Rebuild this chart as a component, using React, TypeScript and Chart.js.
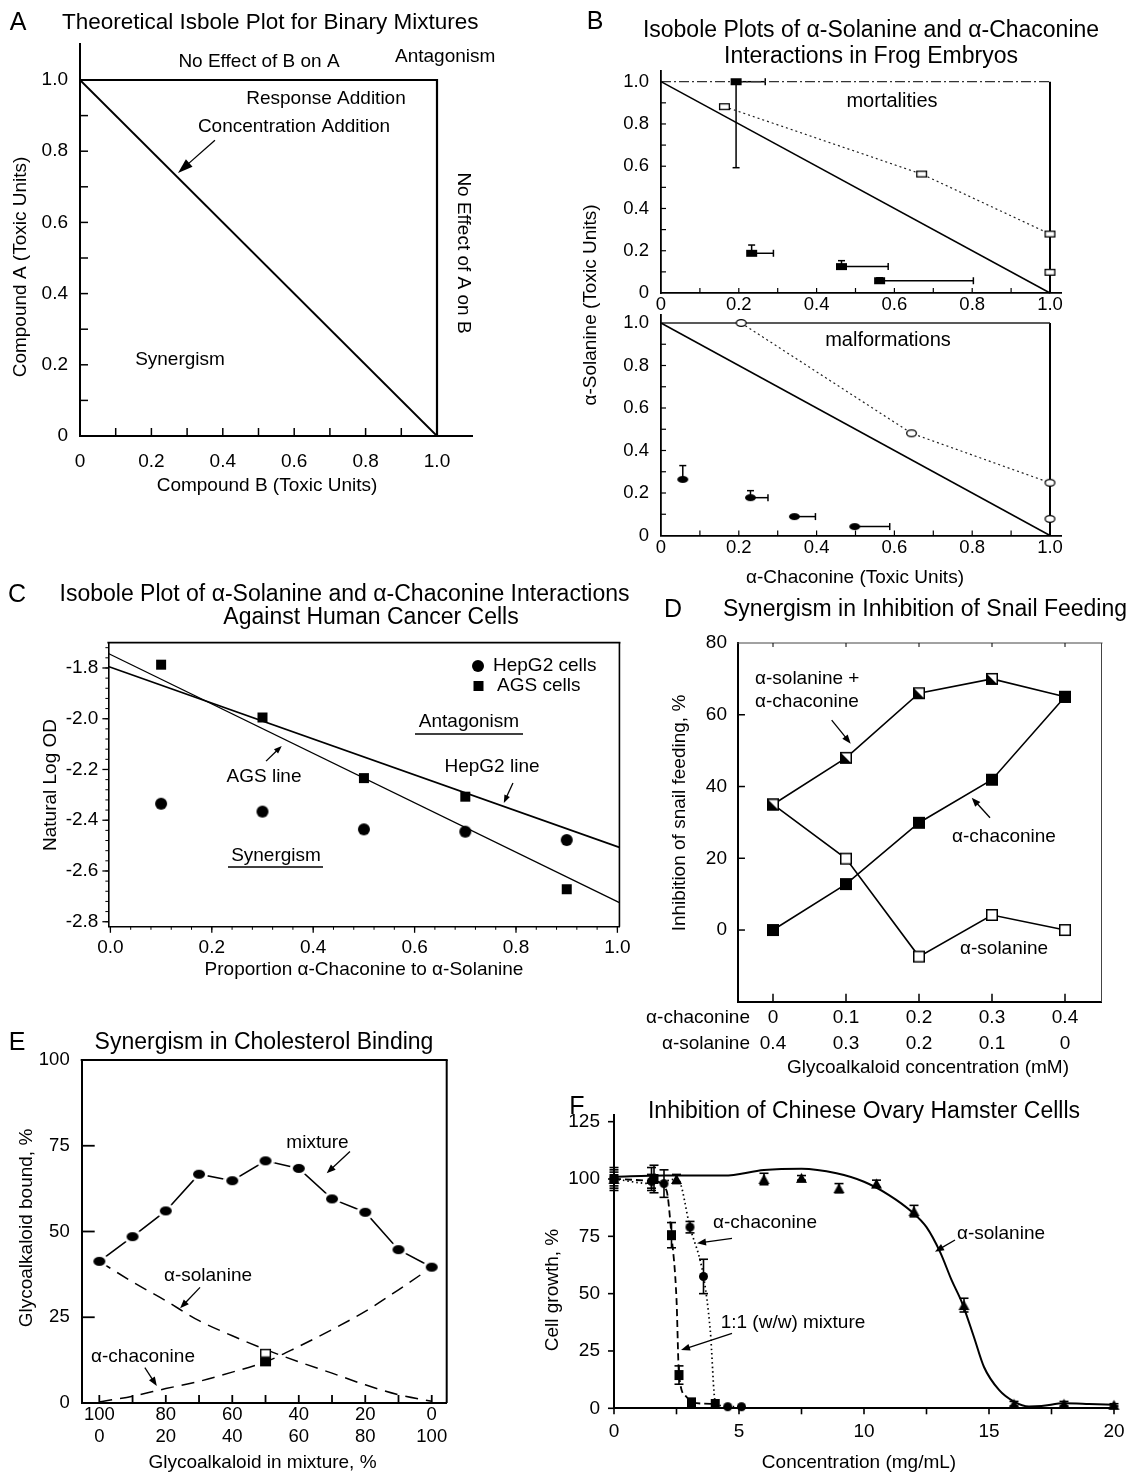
import React, { useEffect, useRef } from 'react';
import { Chart, registerables } from 'chart.js';

Chart.register(...registerables);

const W = 1133;
const H = 1476;
const AXIS_BOX = 60;
const FAMILY = '"Liberation Sans", Arial, Helvetica, sans-serif';

// ===== Panel A: theoretical isobole =====
const aTickValues = [0, 0.2, 0.4, 0.6, 0.8, 1.0];
const aTickLabels = ['0', '0.2', '0.4', '0.6', '0.8', '1.0'];
const aConcAddX = [0, 1];
const aConcAddY = [1, 0];
const aNoEffectX = [0, 1, 1];
const aNoEffectY = [1, 1, 0];

// ===== Panel B: frog embryos =====
const bTickValues = [0, 0.2, 0.4, 0.6, 0.8, 1.0];
const bTickLabels = ['0', '0.2', '0.4', '0.6', '0.8', '1.0'];
const bConcAddX = [0, 1];
const bConcAddY = [1, 0];
const bTopLineX = [0, 1];
const bTopLineY = [1, 1];
const bRightLineX = [1, 1];
const bRightLineY = [0, 1];
const mortOpenX = [0.163, 0.67, 1.0];
const mortOpenY = [0.882, 0.563, 0.279];
const mortExtraX = [1.0];
const mortExtraY = [0.098];
const mortFilledX = [0.193, 0.233, 0.464, 0.562];
const mortFilledY = [1.0, 0.188, 0.125, 0.058];
const mortFilledYLow: (number | null)[] = [0.593, null, null, null];
const mortFilledYHigh: (number | null)[] = [null, 0.227, 0.153, 0.072];
const mortFilledXHigh: (number | null)[] = [0.268, 0.289, 0.584, 0.803];
const malfOpenX = [0.206, 0.644, 1.0];
const malfOpenY = [1.0, 0.481, 0.248];
const malfExtraX = [1.0];
const malfExtraY = [0.078];
const malfFilledX = [0.056, 0.23, 0.343, 0.498];
const malfFilledY = [0.264, 0.178, 0.089, 0.042];
const malfFilledYHigh: (number | null)[] = [0.329, 0.211, null, null];
const malfFilledXHigh: (number | null)[] = [null, 0.275, 0.397, 0.588];

// ===== Panel C: human cancer cells =====
const cProportion = [0.1, 0.3, 0.5, 0.7, 0.9];
const cHepG2 = [-2.335, -2.366, -2.436, -2.445, -2.478];
const cAGS = [-1.787, -1.995, -2.234, -2.307, -2.672];
const cHepLineX = [-0.004, 1.004];
const cHepLineY = [-1.794, -2.507];
const cAgsLineX = [-0.004, 1.004];
const cAgsLineY = [-1.743, -2.725];
const cXTicks = [0, 0.2, 0.4, 0.6, 0.8, 1.0];
const cXLabels = ['0.0', '0.2', '0.4', '0.6', '0.8', '1.0'];
const cYTicks = [-2.8, -2.6, -2.4, -2.2, -2.0, -1.8];
const cYLabels = ['-2.8', '-2.6', '-2.4', '-2.2', '-2.0', '-1.8'];

// ===== Panel D: snail feeding =====
const dIndex = [0, 1, 2, 3, 4];
const dChaconineConc = ['0', '0.1', '0.2', '0.3', '0.4'];
const dSolanineConc = ['0.4', '0.3', '0.2', '0.1', '0'];
const dMixture = [35, 48, 66, 70, 65];
const dChaconine = [0, 12.8, 29.9, 41.9, 65];
const dSolanine = [35, 19.9, -7.4, 4.2, 0];
const dYTicks = [0, 20, 40, 60, 80];
const dYLabels = ['0', '20', '40', '60', '80'];

// ===== Panel E: cholesterol binding (x = % alpha-chaconine) =====
const eChaconinePct = [0, 10, 20, 30, 40, 50, 60, 70, 80, 90, 100];
const eMixture = [41.3, 48.5, 56, 66.7, 64.8, 70.6, 68.4, 59.5, 55.6, 44.7, 39.6];
const eSolanineCurve = [41.3, 35.3, 29.8, 24, 19.6, 15.6, 12, 8.7, 5.3, 2.4, 0.5];
const eChaconineCurve = [0.3, 2, 4.2, 6.3, 9, 12, 16.5, 21.4, 26.7, 33, 39.6];
const eSingleX = [50];
const eSolanineAlone = [14.5];
const eChaconineAlone = [12];
const eXTicks = [0, 20, 40, 60, 80, 100];
const eSolanineRow = ['100', '80', '60', '40', '20', '0'];
const eChaconineRow = ['0', '20', '40', '60', '80', '100'];
const eYTicks = [0, 25, 50, 75, 100];
const eYLabels = ['0', '25', '50', '75', '100'];

// ===== Panel F: CHO cells =====
const fSolanineX = [0, 1.5, 2.5, 6, 7.5, 9, 10.5, 12, 14, 16, 18, 20];
const fSolanineY = [100, 100, 100, 100, 100.5, 96, 98, 86, 45, 2, 2, 1.5];
const fSolanineErr = [5, 5, 2, 2.5, 1, 2, 1.5, 2.5, 3, 1, 1, 0.5];
const fChaconineX = [0, 1.5, 2, 3.04, 3.58, 4.55, 5.1];
const fChaconineY = [100, 99, 98, 79, 57.5, 0.7, 0.7];
const fChaconineErr = [4, 3, 6, 2.5, 7.5, 0, 0];
const fMixtureX = [0, 1.6, 2.3, 2.6, 3.1, 4.05];
const fMixtureY = [100, 100, 75.5, 14.5, 2.6, 1.9];
const fMixtureErr = [3, 6, 5.5, 4, 1, 0];
const fSolCurveX = [0, 2, 4.4, 6, 7.5, 8.9, 10, 11, 11.9, 12.5, 13.05, 13.5, 13.93, 14.4, 14.8, 15.4, 16, 16.6, 17.1, 18, 19, 20];
const fSolCurveY = [101, 101.5, 101.5, 103.9, 104.5, 102.5, 98.8, 93, 85.8, 79, 68, 56, 45.8, 31, 18, 8, 2.9, 0.8, 1, 2.2, 1.9, 1.5];
const fChaCurveX = [0, 1.5, 2.55, 3.04, 3.58, 3.85, 4.05, 4.55, 5.1];
const fChaCurveY = [100, 98, 100, 79, 57.5, 34, 3, 0.7, 0.7];
const fMixCurveX = [0, 1.6, 2.1, 2.3, 2.5, 2.6, 2.9, 3.1, 4.05];
const fMixCurveY = [100, 99, 95, 75.5, 47.6, 14.5, 5, 2.6, 1.9];
const fXTicks = [0, 5, 10, 15, 20];
const fXLabels = ['0', '5', '10', '15', '20'];
const fYTicks = [0, 25, 50, 75, 100, 125];
const fYLabels = ['0', '25', '50', '75', '100', '125'];

// ---------- helpers ----------
const steps = (a: number, b: number, s: number) => {
  const r: number[] = [];
  for (let v = a; v <= b + 1e-9; v += s) r.push(+v.toFixed(4));
  return r;
};

function mkCanvas(w: number, h: number, draw: (c: CanvasRenderingContext2D) => void, pad = 2) {
  const cv = document.createElement('canvas');
  cv.width = Math.ceil(w + pad * 2);
  cv.height = Math.ceil(h + pad * 2);
  const c = cv.getContext('2d')!;
  c.translate(pad, pad);
  draw(c);
  return cv;
}
const rectM = (w: number, h: number, filled: boolean, lw = 1.4) =>
  mkCanvas(w, h, (c) => {
    c.fillStyle = filled ? '#000' : '#fff';
    c.fillRect(0, 0, w, h);
    if (!filled) {
      c.strokeStyle = '#000';
      c.lineWidth = lw;
      c.strokeRect(lw / 2, lw / 2, w - lw, h - lw);
    }
  });
const ellM = (w: number, h: number, filled: boolean, lw = 1.4) =>
  mkCanvas(w, h, (c) => {
    c.beginPath();
    c.ellipse(w / 2, h / 2, w / 2 - (filled ? 0 : lw / 2), h / 2 - (filled ? 0 : lw / 2), 0, 0, Math.PI * 2);
    c.fillStyle = filled ? '#000' : '#fff';
    c.fill();
    if (!filled) {
      c.strokeStyle = '#000';
      c.lineWidth = lw;
      c.stroke();
    }
  });
const halfM = (s: number, lw = 1.4) =>
  mkCanvas(s, s, (c) => {
    c.fillStyle = '#fff';
    c.fillRect(0, 0, s, s);
    c.fillStyle = '#000';
    c.beginPath();
    c.moveTo(0, 0);
    c.lineTo(0, s);
    c.lineTo(s, s);
    c.closePath();
    c.fill();
    c.strokeStyle = '#000';
    c.lineWidth = lw;
    c.strokeRect(lw / 2, lw / 2, s - lw, s - lw);
  });
const triM = (w: number, h: number) =>
  mkCanvas(w, h, (c) => {
    c.fillStyle = '#000';
    c.beginPath();
    c.moveTo(w / 2, 0);
    c.lineTo(w, h);
    c.lineTo(0, h);
    c.closePath();
    c.fill();
  });
const haloM = (w: number, h: number, halo: number) =>
  mkCanvas(w + halo * 2, h + halo * 2, (c) => {
    c.fillStyle = '#fff';
    c.beginPath();
    c.ellipse(w / 2 + halo, h / 2 + halo, w / 2 + halo, h / 2 + halo, 0, 0, Math.PI * 2);
    c.fill();
    c.fillStyle = '#000';
    c.beginPath();
    c.ellipse(w / 2 + halo, h / 2 + halo, w / 2, h / 2, 0, 0, Math.PI * 2);
    c.fill();
  }, 0);

const P = (xs: number[], ys: number[]) => xs.map((x, i) => ({ x, y: ys[i] }));
const lineDs = (xs: number[], ys: number[], o: any = {}) => ({
  data: P(xs, ys),
  showLine: true,
  pointRadius: 0,
  pointHoverRadius: 0,
  borderColor: o.color ?? '#000',
  borderWidth: o.w ?? 1.5,
  borderDash: o.dash ?? [],
  borderCapStyle: 'butt',
  tension: o.tension ?? 0,
  cubicInterpolationMode: o.mono ? 'monotone' : 'default',
  clip: false,
  fill: false,
});
const markDs = (xs: number[], ys: number[], img: HTMLCanvasElement) => ({
  data: P(xs, ys),
  showLine: false,
  pointStyle: img,
  pointRadius: 6,
  pointHoverRadius: 6,
  clip: false,
});

function scale(o: any) {
  return {
    type: 'linear',
    min: o.min,
    max: o.max,
    grid: { display: false, drawTicks: false },
    border: { display: o.border !== false, color: '#000', width: o.bw ?? 2 },
    ticks: {
      autoSkip: false,
      maxRotation: 0,
      minRotation: 0,
      padding: o.pad,
      color: '#000',
      font: { family: FAMILY, size: o.size ?? 19, lineHeight: o.lh ?? 1.2 },
      callback: (_v: any, i: number) => o.labels[i],
    },
    afterBuildTicks: (s: any) => {
      s.ticks = o.values.map((v: number) => ({ value: v }));
    },
    afterFit: (s: any) => {
      if (o.horiz) s.height = AXIS_BOX;
      else s.width = AXIS_BOX;
      s.paddingLeft = 0;
      s.paddingRight = 0;
      s.paddingTop = 0;
      s.paddingBottom = 0;
    },
  };
}

const T = (t: string, x: number, y: number, o: any = {}) => ({ t, x, y, ...o });

function decoPlugin(d: any) {
  const line = (ctx: CanvasRenderingContext2D, x1: number, y1: number, x2: number, y2: number) => {
    ctx.beginPath();
    ctx.moveTo(x1, y1);
    ctx.lineTo(x2, y2);
    ctx.stroke();
  };
  return {
    id: 'deco',
    beforeDatasetsDraw(chart: any) {
      const ctx: CanvasRenderingContext2D = chart.ctx;
      const sx = chart.scales.x;
      const sy = chart.scales.y;
      ctx.save();
      ctx.strokeStyle = '#000';
      for (const e of d.errs || []) {
        ctx.lineWidth = e.width ?? 1.4;
        const c = (e.cap ?? 6) / 2;
        e.xs.forEach((xv: number, i: number) => {
          const px = sx.getPixelForValue(xv);
          const py = sy.getPixelForValue(e.ys[i]);
          const v = (val: any) => {
            if (val == null) return;
            const q = sy.getPixelForValue(val);
            line(ctx, px, py, px, q);
            line(ctx, px - c, q, px + c, q);
          };
          const h = (val: any) => {
            if (val == null) return;
            const q = sx.getPixelForValue(val);
            line(ctx, px, py, q, py);
            line(ctx, q, py - c, q, py + c);
          };
          v(e.yLo ? e.yLo[i] : null);
          v(e.yHi ? e.yHi[i] : null);
          h(e.xHi ? e.xHi[i] : null);
        });
      }
      ctx.restore();
    },
    afterDraw(chart: any) {
      const ctx: CanvasRenderingContext2D = chart.ctx;
      const a = chart.chartArea;
      const sx = chart.scales.x;
      const sy = chart.scales.y;
      ctx.save();
      ctx.fillStyle = '#000';
      if (d.box) {
        const b = d.box;
        const side = (w: number, col: string, x1: number, y1: number, x2: number, y2: number) => {
          if (!w) return;
          ctx.strokeStyle = col;
          ctx.lineWidth = w;
          line(ctx, x1, y1, x2, y2);
        };
        side(b.top, b.topColor ?? '#000', a.left - 1, a.top, a.right + 1, a.top);
        side(b.right, b.rightColor ?? '#000', a.right, a.top, a.right, a.bottom);
        side(b.bottom, '#000', a.left - 1, a.bottom, a.right + 1, a.bottom);
        side(b.left, '#000', a.left, a.top, a.left, a.bottom);
      }
      ctx.strokeStyle = '#000';
      for (const t of d.ticks || []) {
        ctx.lineWidth = t.width ?? 1.5;
        for (const v of t.values) {
          if (t.axis === 'x') {
            const px = sx.getPixelForValue(v);
            const base = t.side === 'top' ? a.top : a.bottom;
            const dir = t.side === 'top' ? 1 : -1;
            line(ctx, px, base, px, base + dir * t.len);
          } else {
            const py = sy.getPixelForValue(v);
            const base = t.side === 'right' ? a.right : a.left;
            const dir = t.side === 'right' ? -1 : 1;
            line(ctx, base, py, base + dir * t.len, py);
          }
        }
      }
      for (const r of d.arrows || []) {
        const x1 = sx.getPixelForValue(r.x1);
        const y1 = sy.getPixelForValue(r.y1);
        const x2 = sx.getPixelForValue(r.x2);
        const y2 = sy.getPixelForValue(r.y2);
        const ang = Math.atan2(y2 - y1, x2 - x1);
        const L = r.head ?? 9;
        const hw = r.hw ?? 3.2;
        const bx = x2 - L * Math.cos(ang);
        const by = y2 - L * Math.sin(ang);
        ctx.lineWidth = r.width ?? 1.3;
        line(ctx, x1, y1, bx + 1 * Math.cos(ang), by + 1 * Math.sin(ang));
        ctx.beginPath();
        ctx.moveTo(x2, y2);
        ctx.lineTo(bx + hw * Math.sin(ang), by - hw * Math.cos(ang));
        ctx.lineTo(bx - hw * Math.sin(ang), by + hw * Math.cos(ang));
        ctx.closePath();
        ctx.fill();
      }
      for (const u of d.underlines || []) {
        ctx.lineWidth = 1.5;
        line(ctx, u[0], u[2], u[1], u[2]);
      }
      for (const im of d.images || []) {
        ctx.drawImage(im.img, im.x - im.img.width / 2, im.y - im.img.height / 2);
      }
      for (const t of d.texts || []) {
        ctx.save();
        ctx.font = `${t.size ?? 19}px ${FAMILY}`;
        ctx.fillStyle = '#000';
        ctx.textAlign = t.align ?? 'center';
        ctx.textBaseline = 'middle';
        ctx.translate(t.x, t.y);
        if (t.rot) ctx.rotate((t.rot * Math.PI) / 180);
        ctx.fillText(t.t, 0, 0);
        ctx.restore();
      }
      ctx.restore();
    },
  };
}

function cfg(area: number[], scales: any, datasets: any[], deco: any) {
  return {
    type: 'scatter',
    data: { datasets },
    options: {
      responsive: false,
      animation: false,
      devicePixelRatio: 1,
      events: [],
      layout: {
        autoPadding: false,
        padding: {
          left: area[0] - AXIS_BOX,
          top: area[1],
          right: W - area[2],
          bottom: H - area[3] - AXIS_BOX,
        },
      },
      plugins: { legend: { display: false }, tooltip: { enabled: false } },
      scales,
    },
    plugins: [decoPlugin(deco)],
  };
}

function buildConfigs() {
  const m = {
    bRectFill: rectM(11, 7, true),
    bRectOpen: rectM(11, 7, false, 1.3),
    bEllFill: ellM(11, 7, true),
    bEllOpen: ellM(11, 8, false, 1.3),
    cCircle: ellM(12, 12, true),
    cSquare: rectM(10, 10, true),
    dFill: rectM(12, 12, true),
    dOpen: rectM(12, 12, false, 1.5),
    dHalf: halfM(12, 1.5),
    eDot: haloM(12, 9, 3),
    eOpen: rectM(11, 9, false, 1.4),
    eFill: rectM(11, 9, true),
    fTri: triM(11, 10),
    fSq: rectM(9, 10, true),
    fDot: ellM(9, 9, true),
  };

  // ---- A ----
  const aArea = [80, 436 - 1.1 * 356, 80 + 1.1 * 357, 436];
  const A = cfg(
    aArea,
    {
      x: scale({ min: 0, max: 1.1, values: aTickValues, labels: aTickLabels, pad: 14, horiz: true, bw: 2 }),
      y: scale({ min: 0, max: 1.1, values: aTickValues, labels: aTickLabels, pad: 12, horiz: false, bw: 2 }),
    },
    [lineDs(aConcAddX, aConcAddY, { w: 1.8 }), lineDs(aNoEffectX, aNoEffectY, { w: 2.2 })],
    {
      ticks: [
        { axis: 'x', values: steps(0.1, 0.9, 0.1), len: 8 },
        { axis: 'y', values: steps(0.1, 0.9, 0.1), len: 8 },
      ],
      arrows: [{ x1: 0.378, y1: 0.831, x2: 0.2745, y2: 0.739, head: 15, hw: 5 }],
      texts: [
        T('A', 18, 23, { size: 25 }),
        T('Theoretical Isbole Plot for Binary Mixtures', 62, 23, { size: 22.5, align: 'left' }),
        T('No Effect of B on A', 259, 62),
        T('Antagonism', 395, 57, { align: 'left' }),
        T('Response Addition', 326, 99),
        T('Concentration Addition', 294, 127),
        T('Synergism', 180, 360),
        T('No Effect of A on B', 463, 253, { rot: 90 }),
        T('Compound A (Toxic Units)', 21, 267, { rot: -90 }),
        T('Compound B (Toxic Units)', 267, 486),
      ],
    }
  );

  // ---- B top ----
  const bx0 = 661;
  const bxu = 389;
  const bTopArea = [bx0, 293 - 1.05 * 211.3, bx0 + 1.03 * bxu, 293];
  const Btop = cfg(
    bTopArea,
    {
      x: scale({ min: 0, max: 1.03, values: bTickValues, labels: bTickLabels, pad: 1, horiz: true, size: 18.5, bw: 1.8 }),
      y: scale({ min: 0, max: 1.05, values: bTickValues, labels: bTickLabels, pad: 12, horiz: false, size: 18.5, bw: 1.8 }),
    },
    [
      markDs(mortFilledX, mortFilledY, m.bRectFill),
      markDs(mortOpenX, mortOpenY, m.bRectOpen),
      markDs(mortExtraX, mortExtraY, m.bRectOpen),
      lineDs(mortOpenX, mortOpenY, { w: 1.2, dash: [2, 3], color: '#222' }),
      lineDs(bConcAddX, bConcAddY, { w: 1.5 }),
      lineDs(bTopLineX, bTopLineY, { w: 1.3, dash: [10, 3, 2, 3], color: '#333' }),
      lineDs(bRightLineX, bRightLineY, { w: 2 }),
    ],
    {
      ticks: [
        { axis: 'x', values: steps(0.1, 0.9, 0.1), len: 5, width: 1.2 },
        { axis: 'y', values: steps(0.1, 0.9, 0.1), len: 5, width: 1.2 },
      ],
      errs: [
        { xs: mortFilledX, ys: mortFilledY, yLo: mortFilledYLow, yHi: mortFilledYHigh, xHi: mortFilledXHigh, cap: 7, width: 1.5 },
      ],
      texts: [
        T('B', 595, 22, { size: 25 }),
        T('Isobole Plots of α-Solanine and α-Chaconine', 871, 31, { size: 23 }),
        T('Interactions in Frog Embryos', 871, 57, { size: 23 }),
        T('mortalities', 892, 101, { size: 20 }),
        T('α-Solanine (Toxic Units)', 591, 305, { rot: -90 }),
      ],
    }
  );

  // ---- B bottom ----
  const bBotArea = [bx0, 535.5 - 1.04 * 212.5, bx0 + 1.03 * bxu, 535.5];
  const Bbot = cfg(
    bBotArea,
    {
      x: scale({ min: 0, max: 1.03, values: bTickValues, labels: bTickLabels, pad: 1.5, horiz: true, size: 18.5, bw: 1.8 }),
      y: scale({ min: 0, max: 1.04, values: bTickValues, labels: bTickLabels, pad: 12, horiz: false, size: 18.5, bw: 1.8 }),
    },
    [
      markDs(malfFilledX, malfFilledY, m.bEllFill),
      markDs(malfOpenX, malfOpenY, m.bEllOpen),
      markDs(malfExtraX, malfExtraY, m.bEllOpen),
      lineDs(malfOpenX, malfOpenY, { w: 1.2, dash: [2, 3], color: '#222' }),
      lineDs(bConcAddX, bConcAddY, { w: 1.5 }),
      lineDs(bTopLineX, bTopLineY, { w: 1.5, color: '#222' }),
      lineDs(bRightLineX, bRightLineY, { w: 2 }),
    ],
    {
      ticks: [
        { axis: 'x', values: steps(0.1, 0.9, 0.1), len: 5, width: 1.2 },
        { axis: 'y', values: steps(0.1, 0.9, 0.1), len: 5, width: 1.2 },
      ],
      errs: [{ xs: malfFilledX, ys: malfFilledY, yHi: malfFilledYHigh, xHi: malfFilledXHigh, cap: 7, width: 1.5 }],
      texts: [T('malformations', 888, 340, { size: 20 }), T('α-Chaconine (Toxic Units)', 855, 578)],
    }
  );

  // ---- C ----
  const cArea = [110.4 - 0.004 * 507, 642.6, 110.4 + 1.004 * 507, 926.8];
  const C = cfg(
    cArea,
    {
      x: scale({ min: -0.004, max: 1.004, values: cXTicks, labels: cXLabels, pad: 10, horiz: true, bw: 1.6 }),
      y: scale({ min: -2.82, max: -1.7, values: cYTicks, labels: cYLabels, pad: 10, horiz: false, bw: 1.6 }),
    },
    [
      markDs(cProportion, cHepG2, m.cCircle),
      markDs(cProportion, cAGS, m.cSquare),
      lineDs(cHepLineX, cHepLineY, { w: 1.6 }),
      lineDs(cAgsLineX, cAgsLineY, { w: 1.3 }),
    ],
    {
      box: { top: 1.6, right: 1.6 },
      ticks: [
        { axis: 'x', values: cXTicks, len: -6, width: 1.3 },
        { axis: 'x', values: steps(0, 1, 0.04), len: -3, width: 1 },
        { axis: 'y', values: cYTicks, len: -6, width: 1.3 },
        { axis: 'y', values: steps(-2.8, -1.72, 0.04), len: -3, width: 1 },
      ],
      arrows: [
        { x1: 0.794, y1: -2.253, x2: 0.776, y2: -2.332, head: 8, hw: 3 },
        { x1: 0.307, y1: -2.167, x2: 0.338, y2: -2.107, head: 8, hw: 3 },
      ],
      underlines: [
        [415, 523, 734],
        [228, 323, 867],
      ],
      images: [
        { img: m.cCircle, x: 478, y: 666 },
        { img: m.cSquare, x: 478.5, y: 686 },
      ],
      texts: [
        T('C', 17, 595, { size: 25 }),
        T('Isobole Plot of α-Solanine and α-Chaconine Interactions', 344.5, 595, { size: 23 }),
        T('Against Human Cancer Cells', 371, 618, { size: 23 }),
        T('Natural Log OD', 51, 785, { rot: -90 }),
        T('Proportion α-Chaconine to α-Solanine', 364, 970),
        T('HepG2 cells', 493, 666, { align: 'left' }),
        T('AGS cells', 497, 686, { align: 'left' }),
        T('Antagonism', 469, 722),
        T('HepG2 line', 492, 767),
        T('AGS line', 264, 777),
        T('Synergism', 276, 856),
      ],
    }
  );

  // ---- D ----
  const dArea = [773 - 0.48 * 73, 643, 773 + 4.5 * 73, 1001.8];
  const D = cfg(
    dArea,
    {
      x: scale({
        min: -0.48,
        max: 4.5,
        values: dIndex,
        labels: dIndex.map((i) => [dChaconineConc[i], dSolanineConc[i]]),
        pad: 3,
        horiz: true,
        lh: 1.37,
        bw: 2,
      }),
      y: scale({ min: -20, max: 80, values: dYTicks, labels: dYLabels, pad: 11, horiz: false, bw: 2 }),
    },
    [
      markDs(dIndex, dChaconine, m.dFill),
      markDs(dIndex, dMixture, m.dHalf),
      markDs(dIndex, dSolanine, m.dOpen),
      lineDs(dIndex, dMixture, { w: 1.6 }),
      lineDs(dIndex, dChaconine, { w: 1.6 }),
      lineDs(dIndex, dSolanine, { w: 1.6 }),
    ],
    {
      box: { top: 1, right: 1, topColor: '#444', rightColor: '#444' },
      ticks: [
        { axis: 'x', values: dIndex, len: 8 },
        { axis: 'x', values: dIndex, len: 4, side: 'top', width: 1 },
        { axis: 'y', values: [0, 20, 40, 60], len: 7 },
      ],
      arrows: [
        { x1: 0.804, y1: 58.5, x2: 1.064, y2: 51.95, head: 9, hw: 3.5 },
        { x1: 2.973, y1: 31.3, x2: 2.722, y2: 36.9, head: 9, hw: 3.5 },
      ],
      texts: [
        T('D', 673, 610, { size: 25 }),
        T('Synergism in Inhibition of Snail Feeding', 723, 610, { size: 23, align: 'left' }),
        T('α-solanine +', 755, 679, { align: 'left' }),
        T('α-chaconine', 755, 702, { align: 'left' }),
        T('α-chaconine', 952, 837, { align: 'left' }),
        T('α-solanine', 960, 949, { align: 'left' }),
        T('α-chaconine', 750, 1018, { align: 'right' }),
        T('α-solanine', 750, 1044, { align: 'right' }),
        T('Glycoalkaloid concentration (mM)', 928, 1068),
        T('Inhibition of snail feeding, %', 680, 813, { rot: -90 }),
      ],
    }
  );

  // ---- E ----
  const eArea = [81.7, 1060, 446.7, 1403];
  const E = cfg(
    eArea,
    {
      x: scale({
        min: -5.3,
        max: 104.5,
        values: eXTicks,
        labels: eXTicks.map((_v, i) => [eSolanineRow[i], eChaconineRow[i]]),
        pad: 1,
        horiz: true,
        size: 18.5,
        lh: 1.17,
        bw: 2,
      }),
      y: scale({ min: 0, max: 100, values: eYTicks, labels: eYLabels, pad: 12, horiz: false, size: 18.5, bw: 2 }),
    },
    [
      markDs(eChaconinePct, eMixture, m.eDot),
      markDs(eSingleX, eChaconineAlone, m.eFill),
      markDs(eSingleX, eSolanineAlone, m.eOpen),
      lineDs(eChaconinePct, eMixture, { w: 1.6 }),
      lineDs(eChaconinePct, eSolanineCurve, { w: 1.5, dash: [13, 8], tension: 0.4, mono: true }),
      lineDs(eChaconinePct, eChaconineCurve, { w: 1.5, dash: [13, 8], tension: 0.4, mono: true }),
    ],
    {
      box: { top: 2, right: 2 },
      ticks: [
        { axis: 'x', values: steps(0, 100, 10), len: 8, width: 1.8 },
        { axis: 'y', values: [25, 50, 75], len: 13, width: 1.8 },
      ],
      arrows: [
        { x1: 75.4, y1: 73.3, x2: 68.4, y2: 67.0, head: 9, hw: 3.5 },
        { x1: 30.3, y1: 33.7, x2: 24.3, y2: 27.6, head: 9, hw: 3.5 },
        { x1: 13.7, y1: 10.3, x2: 17.3, y2: 4.96, head: 9, hw: 3.5 },
      ],
      texts: [
        T('E', 17, 1043, { size: 25 }),
        T('Synergism in Cholesterol Binding', 264, 1043, { size: 23 }),
        T('mixture', 317.5, 1143),
        T('α-solanine', 208, 1276),
        T('α-chaconine', 143, 1357),
        T('Glycoalkaloid in mixture, %', 262.5, 1463),
        T('Glycoalkaloid bound, %', 27, 1228, { rot: -90 }),
      ],
    }
  );

  // ---- F ----
  const fArea = [614, 1408.3 - 128 * 2.293, 614 + 20.1 * 25, 1408.3];
  const symLo = (ys: number[], es: number[]) => ys.map((y, i) => (es[i] ? y - es[i] : null));
  const symHi = (ys: number[], es: number[]) => ys.map((y, i) => (es[i] ? y + es[i] : null));
  const F = cfg(
    fArea,
    {
      x: scale({ min: 0, max: 20.1, values: fXTicks, labels: fXLabels, pad: 12, horiz: true, bw: 2 }),
      y: scale({ min: 0, max: 128, values: fYTicks, labels: fYLabels, pad: 14, horiz: false, bw: 2 }),
    },
    [
      markDs(fSolanineX, fSolanineY, m.fTri),
      markDs(fMixtureX, fMixtureY, m.fSq),
      markDs(fChaconineX, fChaconineY, m.fDot),
      lineDs(fSolCurveX, fSolCurveY, { w: 2, tension: 0.4, mono: true }),
      lineDs(fChaCurveX, fChaCurveY, { w: 1.7, dash: [1.5, 3], tension: 0.3, mono: true }),
      lineDs(fMixCurveX, fMixCurveY, { w: 1.8, dash: [7, 4], tension: 0.3, mono: true }),
    ],
    {
      ticks: [
        { axis: 'y', values: fYTicks, len: -6, width: 1.6 },
        { axis: 'x', values: steps(0, 20, 2.5), len: -6, width: 1.6 },
      ],
      errs: [
        { xs: fSolanineX, ys: fSolanineY, yLo: symLo(fSolanineY, fSolanineErr), yHi: symHi(fSolanineY, fSolanineErr), cap: 9, width: 1.6 },
        { xs: fChaconineX, ys: fChaconineY, yLo: symLo(fChaconineY, fChaconineErr), yHi: symHi(fChaconineY, fChaconineErr), cap: 9, width: 1.6 },
        { xs: fMixtureX, ys: fMixtureY, yLo: symLo(fMixtureY, fMixtureErr), yHi: symHi(fMixtureY, fMixtureErr), cap: 9, width: 1.6 },
      ],
      arrows: [
        { x1: 4.72, y1: 74.1, x2: 3.32, y2: 72.0, head: 9, hw: 3.5 },
        { x1: 13.64, y1: 73.4, x2: 12.84, y2: 68.3, head: 9, hw: 3.5 },
        { x1: 4.72, y1: 32.7, x2: 2.68, y2: 25.4, head: 9, hw: 3.5 },
      ],
      texts: [
        T('F', 577, 1107, { size: 25 }),
        T('Inhibition of Chinese Ovary Hamster Cellls', 864, 1112, { size: 23 }),
        T('α-chaconine', 765, 1223),
        T('α-solanine', 1001, 1234),
        T('1:1 (w/w) mixture', 793, 1323),
        T('Concentration (mg/mL)', 859, 1463),
        T('Cell growth, %', 553, 1290, { rot: -90 }),
      ],
    }
  );

  return [A, Btop, Bbot, C, D, E, F];
}

export default function App() {
  const refs = useRef<(HTMLCanvasElement | null)[]>([]);
  useEffect(() => {
    const cfgs = buildConfigs();
    const charts = cfgs.map((c, i) => new Chart(refs.current[i] as HTMLCanvasElement, c as any));
    return () => {
      charts.forEach((c) => c.destroy());
    };
  }, []);
  return (
    <div style={{ position: 'absolute', left: 0, top: 0, width: W, height: H, background: '#fff', overflow: 'hidden' }}>
      {Array.from({ length: 7 }).map((_, i) => (
        <canvas
          key={i}
          ref={(el) => {
            refs.current[i] = el;
          }}
          width={W}
          height={H}
          style={{ position: 'absolute', left: 0, top: 0, width: W, height: H }}
        />
      ))}
    </div>
  );
}
